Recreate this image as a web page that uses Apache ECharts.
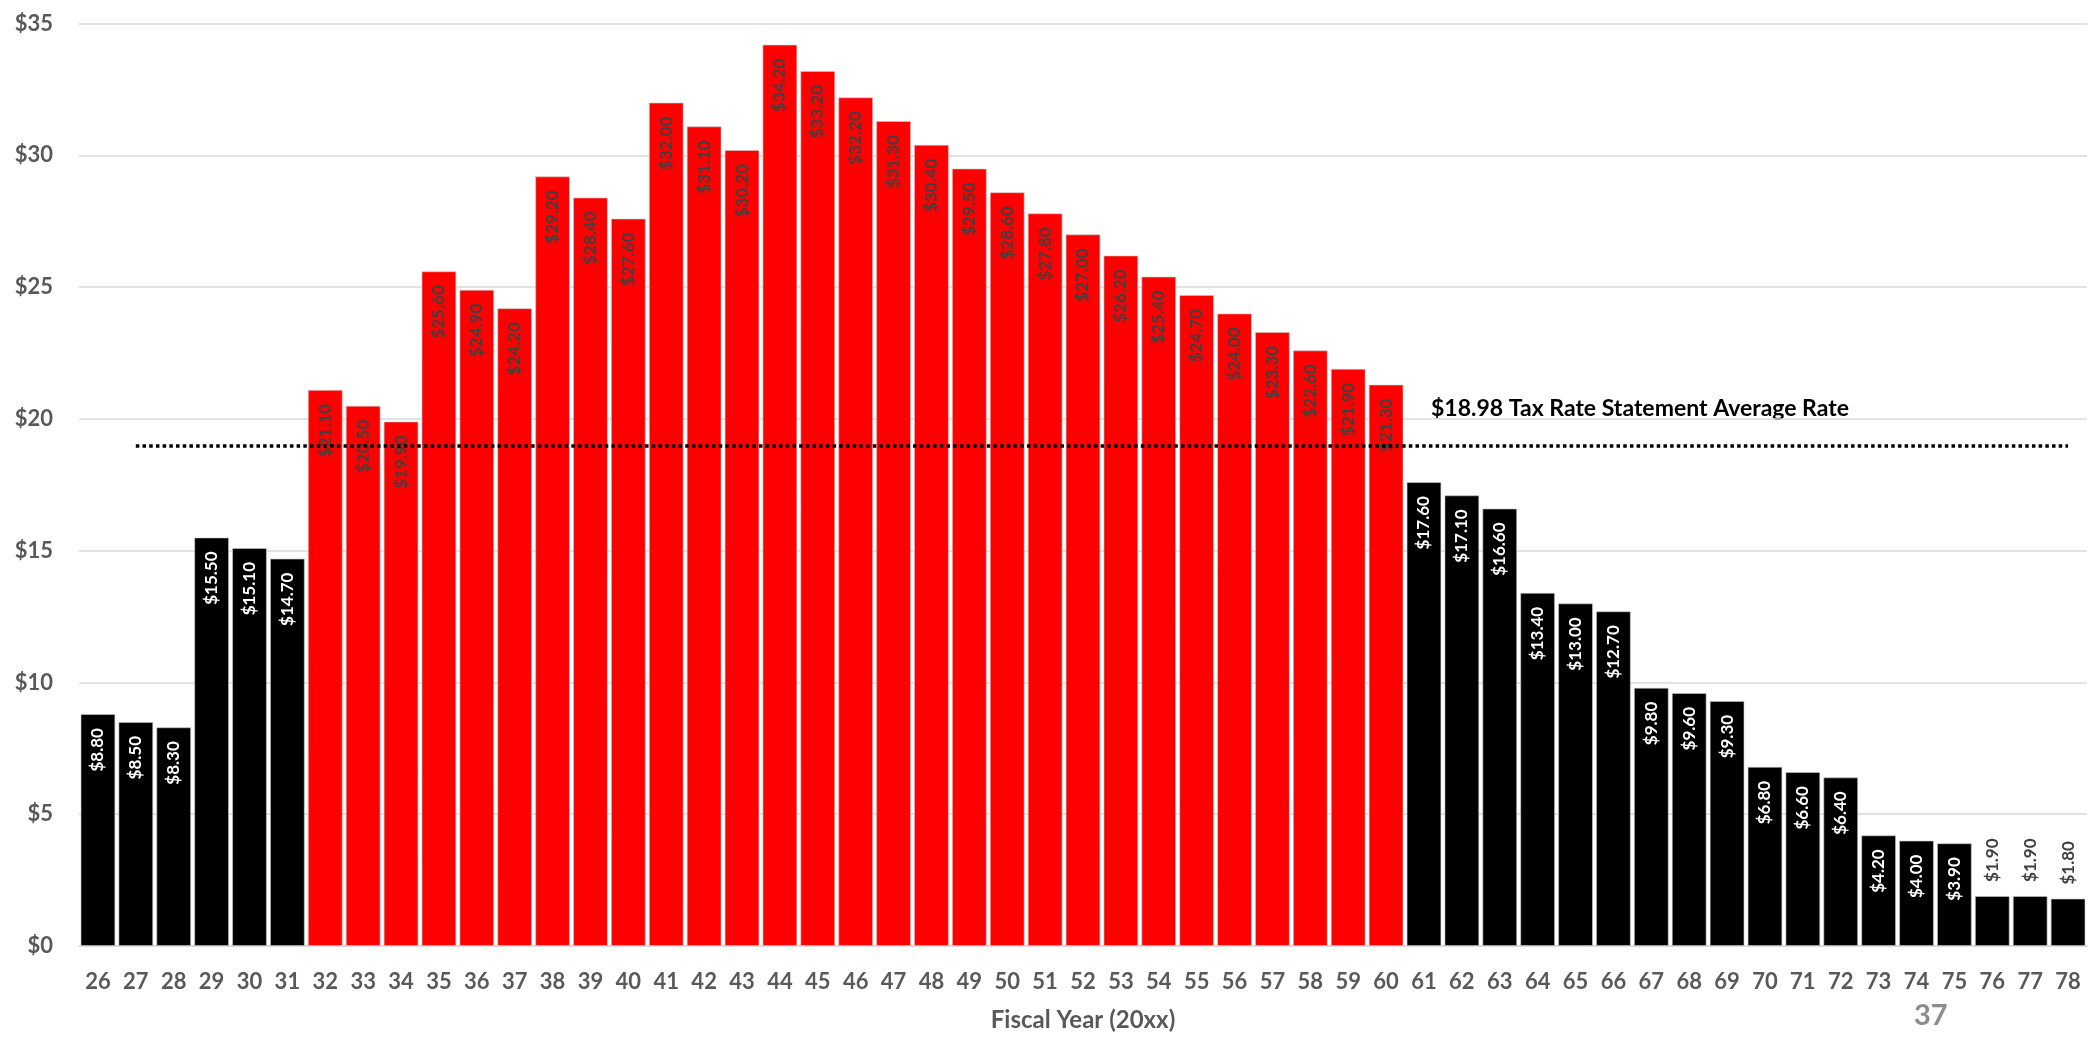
<!DOCTYPE html>
<html>
<head>
<meta charset="utf-8">
<script src="https://cdn.jsdelivr.net/npm/echarts@6/dist/echarts.min.js"></script>
<style>
  html, body { margin: 0; padding: 0; background: #ffffff; }
  #chart { width: 2091px; height: 1037px; }
</style>
</head>
<body>
<div id="chart"></div>
<script>
// Fiscal years (20xx) and projected rate per year
const fiscalYears = ['26','27','28','29','30','31','32','33','34','35','36','37','38','39','40','41','42','43','44','45','46','47','48','49','50','51','52','53','54','55','56','57','58','59','60','61','62','63','64','65','66','67','68','69','70','71','72','73','74','75','76','77','78'];
const rates = [8.80, 8.50, 8.30, 15.50, 15.10, 14.70, 21.10, 20.50, 19.90, 25.60, 24.90, 24.20, 29.20, 28.40, 27.60, 32.00, 31.10, 30.20, 34.20, 33.20, 32.20, 31.30, 30.40, 29.50, 28.60, 27.80, 27.00, 26.20, 25.40, 24.70, 24.00, 23.30, 22.60, 21.90, 21.30, 17.60, 17.10, 16.60, 13.40, 13.00, 12.70, 9.80, 9.60, 9.30, 6.80, 6.60, 6.40, 4.20, 4.00, 3.90, 1.90, 1.90, 1.80];
const averageRate = 18.98;
const averageLabel = '$18.98 Tax Rate Statement Average Rate';
const yTicks = [0, 5, 10, 15, 20, 25, 30, 35];
const pageNumber = '37';

const FONT = 'Lato, "Open Sans", "Liberation Sans", sans-serif';
const RED = '#ff0000';
const BLACK = '#000000';

const money = v => '$' + v.toFixed(2);

// Bars above the average rate are highlighted red; short bars carry their label above.
const barData = rates.map(v => {
  const above = v > averageRate;
  const item = {
    value: v,
    itemStyle: { color: above ? RED : BLACK }
  };
  if (v < 2.5) {
    item.label = {
      position: 'top', rotate: 90, align: 'left', verticalAlign: 'middle',
      distance: 14, color: '#404040'
    };
  } else {
    item.label = { color: above ? '#404040' : '#ffffff' };
  }
  return item;
});

const chart = echarts.init(document.getElementById('chart'), null, { renderer: 'canvas' });

chart.setOption({
  animation: false,
  backgroundColor: '#ffffff',
  grid: { left: 79, right: 4, top: 23.5, bottom: 90, containLabel: false },
  xAxis: {
    type: 'category',
    data: fiscalYears,
    name: 'Fiscal Year (20xx)',
    nameLocation: 'middle',
    nameGap: 62,
    nameTextStyle: { fontFamily: FONT, fontWeight: 'bold', fontSize: 24, color: '#595959' },
    axisLine: { lineStyle: { color: '#d9d9d9', width: 1.5 } },
    axisTick: { show: false },
    axisLabel: { fontFamily: FONT, fontWeight: 'bold', fontSize: 22, color: '#595959', margin: 25, interval: 0 }
  },
  yAxis: {
    type: 'value',
    min: yTicks[0],
    max: yTicks[yTicks.length - 1],
    interval: yTicks[1] - yTicks[0],
    axisLine: { show: false },
    axisTick: { show: false },
    splitLine: { lineStyle: { color: '#d9d9d9', width: 1.5 } },
    axisLabel: {
      fontFamily: FONT, fontWeight: 'bold', fontSize: 22, color: '#595959', margin: 26,
      formatter: v => '$' + v
    }
  },
  series: [{
    type: 'bar',
    data: barData,
    barCategoryGap: '8%',
    itemStyle: { borderColor: 'rgba(200,200,200,0.6)', borderWidth: 1 },
    label: {
      show: true,
      position: 'insideTop',
      rotate: 90,
      align: 'right',
      verticalAlign: 'middle',
      distance: 14,
      fontFamily: FONT,
      fontWeight: 'bold',
      fontSize: 17,
      formatter: p => money(p.value)
    },
    markLine: {
      silent: true,
      symbol: 'none',
      label: { show: false },
      lineStyle: { color: '#000000', width: 3.5, type: [3.5, 3.2], cap: 'butt' },
      data: [[
        { coord: [fiscalYears[1], averageRate] },
        { coord: [fiscalYears[fiscalYears.length - 1], averageRate] }
      ]]
    }
  }],
  graphic: [
    {
      type: 'text', left: 1431, top: 397,
      style: { text: averageLabel, fontFamily: FONT, fontWeight: 'bold', fontSize: 23, fill: '#000000' }
    },
    {
      type: 'text', left: 1914, top: 1001,
      style: { text: pageNumber, fontFamily: FONT, fontWeight: 'bold', fontSize: 29, fill: '#8c8c8c' }
    }
  ]
});
</script>
</body>
</html>
